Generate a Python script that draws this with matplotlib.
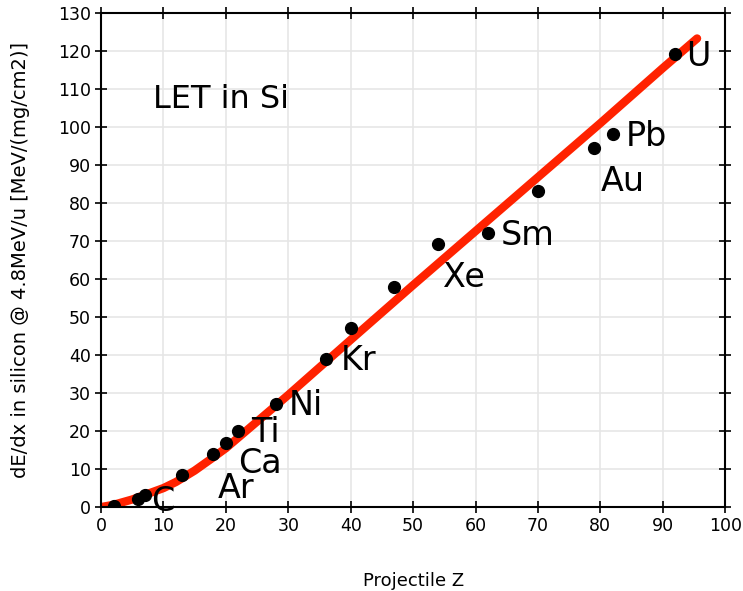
import matplotlib
matplotlib.use("Agg")
import matplotlib.pyplot as plt

# measured ions: projectile Z and LET in Si
ion_z = [2, 6, 7, 13, 18, 20, 22, 28, 36, 40, 47, 54, 62, 70, 79, 82, 92]
ion_let = [0.3, 2.2, 3.1, 8.4, 13.9, 16.9, 20.1, 27.0, 38.9, 47.0, 58.0, 69.1, 72.2, 83.2, 94.4, 98.2, 119.2]

# calculated curve
curve_z = [0, 2, 5, 8, 10, 12, 15, 18, 20, 25, 30, 40, 50, 60, 70, 80, 90, 95.5]
curve_let = [0, 0.6, 2.0, 3.8, 5.0, 6.6, 9.6, 13.1, 15.5, 22.5, 29.5, 44.0, 58.4, 72.6, 86.8, 101.0, 115.5, 123.3]

# element labels and where they sit (left, baseline)
labels = ["C", "Ar", "Ca", "Ti", "Ni", "Kr", "Xe", "Sm", "Au", "Pb", "U"]
label_z = [8.0, 18.7, 22.0, 24.0, 30.0, 38.4, 54.8, 64.0, 80.1, 84.0, 93.8]
label_let = [-1.1, 2.4, 8.9, 17.1, 24.2, 36.0, 57.9, 69.0, 83.2, 95.0, 116.0]

fig = plt.figure(figsize=(7.43, 5.91), dpi=100)
ax = fig.add_axes([0.136, 0.142, 0.840, 0.836])

ax.plot(curve_z, curve_let, color="#ff2200", linewidth=6, solid_capstyle="round", zorder=2)
ax.plot(ion_z, ion_let, "o", color="black", markersize=8.5, zorder=3)

for name, x, y in zip(labels, label_z, label_let):
    ax.text(x, y, name, fontsize=24, ha="left", va="baseline", zorder=4)
ax.text(8.4, 105, "LET in Si", fontsize=23, ha="left", va="baseline")

ax.set_xlim(0, 100)
ax.set_ylim(0, 130)
ax.set_xticks(range(0, 101, 10))
ax.set_yticks(range(0, 131, 10))
ax.grid(True, color="#e6e6e6", linewidth=1.2, zorder=0)
ax.set_axisbelow(True)
ax.tick_params(direction="inout", length=8, width=1.2, labelsize=12.5,
               top=True, right=True)
for s in ax.spines.values():
    s.set_linewidth(1.5)

ax.set_xlabel("Projectile Z", fontsize=13, labelpad=26)
ax.set_ylabel("dE/dx in silicon @ 4.8MeV/u [MeV/(mg/cm2)]", fontsize=14, labelpad=20)

fig.savefig("out.png", dpi=100)
